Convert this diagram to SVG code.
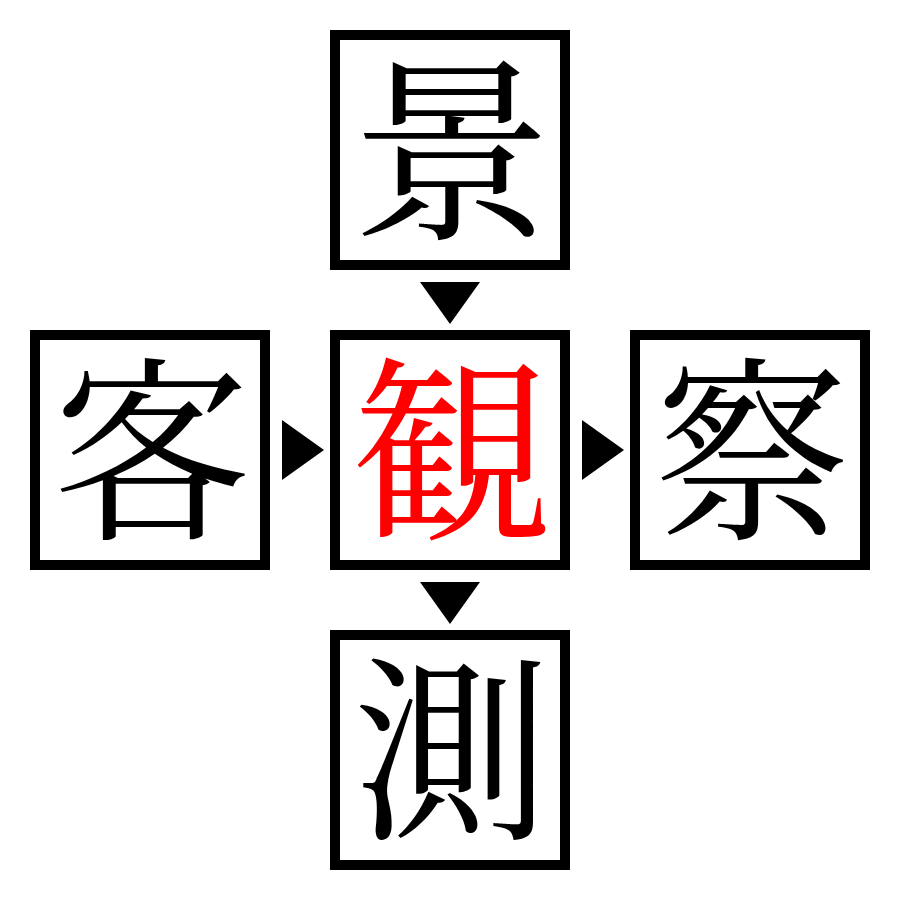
<svg xmlns="http://www.w3.org/2000/svg" width="900" height="900" viewBox="0 0 900 900">
<style>
.box{fill:#fff;stroke:#000;stroke-width:10}
.ch{font-family:"Noto Serif CJK JP","Noto Sans CJK JP",serif;font-size:198px;text-anchor:middle;fill:#000}
.hl{fill:#f00}
.arr{fill:#000}
</style>
<rect width="900" height="900" fill="#fff"/>
<g id="node-kei"><rect class="box" x="335" y="35" width="230" height="230"/><text class="ch" x="452" y="224">景</text></g>
<g id="node-kyaku"><rect class="box" x="35" y="335" width="230" height="230"/><text class="ch" x="152" y="524">客</text></g>
<g id="node-kan"><rect class="box" x="335" y="335" width="230" height="230"/><text class="ch hl" x="452" y="524">観</text></g>
<g id="node-satsu"><rect class="box" x="635" y="335" width="230" height="230"/><text class="ch" x="752" y="524">察</text></g>
<g id="node-soku"><rect class="box" x="335" y="635" width="230" height="230"/><text class="ch" x="452" y="824">測</text></g>
<g id="connectors">
<polygon class="arr" points="420,282 480,282 450,324"/>
<polygon class="arr" points="282,420 282,480 324,450"/>
<polygon class="arr" points="582,420 582,480 624,450"/>
<polygon class="arr" points="420,582 480,582 450,624"/>
</g>
</svg>
